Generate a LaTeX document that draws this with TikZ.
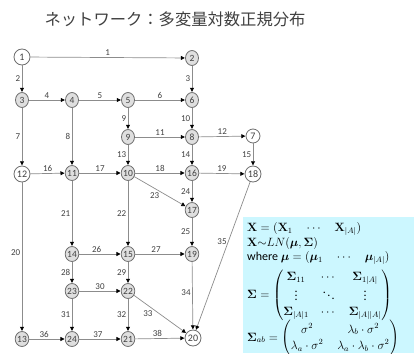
\documentclass[tikz,border=0pt]{standalone}
\usepackage{amsmath,amssymb}
\usepackage{bm}
\usepackage[no-math]{fontspec}
\setmainfont{Carlito}
\newfontfamily\jpfont{Noto Sans CJK JP}
\usetikzlibrary{arrows.meta,shapes.geometric}
\definecolor{boxc}{HTML}{CCF7FF}
\definecolor{edgec}{HTML}{8C8C8C}
\definecolor{nodec}{HTML}{6E6E6E}
\definecolor{txtc}{HTML}{404040}
\tikzset{
  gnode/.style={ellipse,draw=nodec,line width=0.8pt,fill=gray!25,minimum width=13pt,minimum height=15pt,inner sep=0pt,font=\fontsize{9.5}{9.5}\selectfont,text=txtc},
  wnode/.style={circle,draw=nodec,line width=0.8pt,fill=white,minimum size=16pt,inner sep=0pt,font=\fontsize{10}{10}\selectfont,text=txtc},
  edge/.style={draw=edgec,line width=0.7pt,-{Triangle[length=4pt,width=4pt,color=black]},shorten >=0.3pt},
  lbl/.style={font=\fontsize{9}{9}\selectfont,text=txtc,inner sep=1.5pt},
  mathline/.style={anchor=west,inner sep=0pt,font=\fontsize{12}{14}\selectfont,text=black}
}
\begin{document}
\begin{tikzpicture}[x=1pt,y=-1pt]
\useasboundingbox (0,0) rectangle (414,353);
\node[font=\jpfont\fontsize{16.3}{17}\selectfont,text=txtc] (title) at (175,19) {ネットワーク：多変量対数正規分布};
\fill[boxc] (243,217) rectangle (414,353);
% nodes
\node[wnode] (n1) at (22,57) {1};
\node[gnode] (n2) at (192,58) {2};
\node[gnode] (n3) at (22,100) {3};
\node[gnode] (n4) at (72,100) {4};
\node[gnode] (n5) at (128,100) {5};
\node[gnode] (n6) at (192,100) {6};
\node[gnode] (n9) at (128,137) {9};
\node[gnode] (n8) at (192,137) {8};
\node[wnode,minimum size=14pt] (n7) at (253,136) {7};
\node[wnode] (n12) at (22,174) {12};
\node[gnode] (n11) at (72,173) {11};
\node[gnode] (n10) at (128,173) {10};
\node[gnode] (n16) at (192,173) {16};
\node[wnode] (n18) at (253,174) {18};
\node[gnode] (n17) at (192,210) {17};
\node[gnode] (n14) at (72,254) {14};
\node[gnode] (n15) at (128,254) {15};
\node[gnode] (n19) at (192,254) {19};
\node[gnode] (n23) at (72,291) {23};
\node[gnode] (n22) at (128,291) {22};
\node[gnode] (n13) at (22,339) {13};
\node[gnode] (n24) at (72,339) {24};
\node[gnode] (n21) at (128,339) {21};
\node[wnode] (n20) at (193,338) {20};
% edges
\draw[edge] (n1) -- node[lbl,above] {1} (n2);
\draw[edge] (n1) -- node[lbl,left] {2} (n3);
\draw[edge] (n2) -- node[lbl,left] {3} (n6);
\draw[edge] (n3) -- node[lbl,above] {4} (n4);
\draw[edge] (n4) -- node[lbl,above] {5} (n5);
\draw[edge] (n5) -- node[lbl,above] {6} (n6);
\draw[edge] (n3) -- node[lbl,left] {7} (n12);
\draw[edge] (n4) -- node[lbl,left] {8} (n11);
\draw[edge] (n5) -- node[lbl,left] {9} (n9);
\draw[edge] (n6) -- node[lbl,left] {10} (n8);
\draw[edge] (n9) -- node[lbl,above] {11} (n8);
\draw[edge] (n8) -- node[lbl,above] {12} (n7);
\draw[edge] (n9) -- node[lbl,left] {13} (n10);
\draw[edge] (n8) -- node[lbl,left] {14} (n16);
\draw[edge] (n7) -- node[lbl,left] {15} (n18);
\draw[edge] (n12) -- node[lbl,above] {16} (n11);
\draw[edge] (n11) -- node[lbl,above] {17} (n10);
\draw[edge] (n10) -- node[lbl,above] {18} (n16);
\draw[edge] (n16) -- node[lbl,above] {19} (n18);
\draw[edge] (n12) -- node[lbl,left,pos=0.47] {20} (n13);
\draw[edge] (n11) -- node[lbl,left] {21} (n14);
\draw[edge] (n10) -- node[lbl,left] {22} (n15);
\draw[edge] (n10) -- node[lbl,below left,pos=0.5,inner sep=0.5pt] {23} (n17);
\draw[edge] (n16) -- node[lbl,left] {24} (n17);
\draw[edge] (n17) -- node[lbl,left] {25} (n19);
\draw[edge] (n14) -- node[lbl,above,pos=0.42] {26} (n15);
\draw[edge] (n15) -- node[lbl,above,pos=0.42] {27} (n19);
\draw[edge] (n14) -- node[lbl,left] {28} (n23);
\draw[edge] (n15) -- node[lbl,left] {29} (n22);
\draw[edge] (n23) -- node[lbl,above] {30} (n22);
\draw[edge] (n23) -- node[lbl,left] {31} (n24);
\draw[edge] (n22) -- node[lbl,left] {32} (n21);
\draw[edge] (n22) -- node[lbl,below left,pos=0.38,inner sep=1pt] {33} (n20);
\draw[edge] (n19) -- node[lbl,left,pos=0.45] {34} (n20);
\draw[edge] (n18) -- node[lbl,left,pos=0.4] {35} (n20);
\draw[edge] (n13) -- node[lbl,above,pos=0.42] {36} (n24);
\draw[edge] (n24) -- node[lbl,above,pos=0.45] {37} (n21);
\draw[edge] (n21) -- node[lbl,above,pos=0.45] {38} (n20);
% formulas
\node[mathline] (f1) at (247,229) {$\mathbf{X}=(\mathbf{X}_1\quad\cdots\quad\mathbf{X}_{|A|})$};
\node[mathline] (f2) at (247,243) {$\mathbf{X}{\sim}LN(\boldsymbol{\mu},\mathbf{\Sigma})$};
\node[mathline] (f3) at (247,258) {where $\boldsymbol{\mu}=(\boldsymbol{\mu}_1\quad\cdots\quad\boldsymbol{\mu}_{|A|})$};
\node[mathline] (f4) at (247,295) {$\renewcommand\arraystretch{1.1}\setlength\arraycolsep{6pt}\mathbf{\Sigma}=\begin{pmatrix}\mathbf{\Sigma}_{11} & \cdots & \mathbf{\Sigma}_{1|A|}\\ \vdots & \ddots & \vdots\\ \mathbf{\Sigma}_{|A|1} & \cdots & \mathbf{\Sigma}_{|A||A|}\end{pmatrix}$};
\node[mathline] (f5) at (247,338) {$\renewcommand\arraystretch{1.15}\setlength\arraycolsep{7pt}\mathbf{\Sigma}_{ab}=\begin{pmatrix}\sigma^2 & \lambda_b\cdot\sigma^2\\ \lambda_a\cdot\sigma^2 & \lambda_a\cdot\lambda_b\cdot\sigma^2\end{pmatrix}$};
\end{tikzpicture}
\end{document}
